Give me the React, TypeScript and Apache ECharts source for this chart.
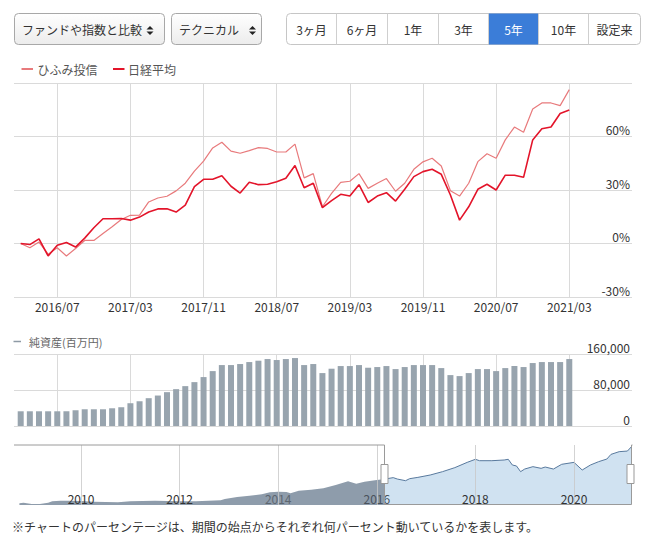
import React, { useEffect, useRef } from 'react';
import * as echarts from 'echarts';

const FONT = "'Noto Sans CJK JP', 'Noto Sans', sans-serif";

// Monthly points 2016/03 .. 2021/03 (index 0..60)
const tickIndex = [4, 12, 20, 28, 36, 44, 52, 60];
const tickLabels = ['2016/07', '2017/03', '2017/11', '2018/07', '2019/03', '2019/11', '2020/07', '2021/03'];

const hifumi = [0, -2.4, 0.8, -6, -2.4, -7, -2.8, 1.7, 1.7, 5.6,
  9.4, 13.5, 15.8, 15.9, 23.3, 25.5, 26.5, 29.5, 33.8, 40.6,
  46.2, 53.6, 56.8, 51.8, 50.6, 52.1, 53.8, 53.3, 51.3, 51.3,
  55.7, 36.8, 39.2, 20.6, 28.1, 34.3, 34.9, 39.2, 30.9, 33.8,
  36.4, 29.3, 33.8, 41.6, 45.8, 47.8, 43.5, 29.6, 26.6, 33.8,
  45.9, 50.3, 47.8, 58.1, 65.3, 62.4, 75.4, 78.8, 78.8, 77.3,
  86.3];

const nikkei = [0, -0.6, 2.6, -7, -1, 0.6, -2, 3, 8.8, 13.9,
  13.9, 14, 13.1, 14.8, 17.7, 19.4, 19.5, 17.6, 21.5, 31.9,
  36, 36, 38, 32.1, 28.3, 34.4, 33, 33.2, 34.6, 36.6,
  43.7, 31.3, 33.8, 20.1, 24, 27.6, 26.6, 33, 23, 26.6,
  28.5, 23.8, 30.4, 37.5, 40.3, 41.6, 38.8, 27.2, 13.1, 20.6,
  30.4, 33.2, 30, 38.3, 38.3, 37.1, 58.1, 64.3, 65.3, 72.9,
  74.8];

// 純資産 (百万円)
const netAssets = [32700, 32700, 32700, 32700, 32700, 32700, 35000, 37200, 37200, 37200,
  39400, 41700, 50600, 55000, 61800, 67700, 75200, 81900, 88600, 97500,
  108700, 122000, 135400, 135400, 137700, 142100, 145100, 148800, 146600, 148800,
  151000, 135400, 137700, 117600, 127300, 133200, 133200, 135400, 129500, 131000,
  133200, 126500, 131000, 135400, 135400, 135400, 128700, 113100, 110900, 117600,
  126500, 126500, 122000, 128700, 133200, 131000, 139900, 142100, 142100, 142100,
  148800];

// Navigator: months since 2008/10, fund price (円)
const navMonth = [0, 1, 3, 5, 7, 8, 10, 12, 15, 18, 21, 24, 27, 30, 33, 36, 39, 43, 46, 49,
  50, 53, 56, 59, 61, 63, 65, 66, 68, 71, 74, 77, 80, 82, 84, 87, 89,
  91, 92, 94, 95, 97, 100, 103, 106, 109, 111, 112, 115, 118, 119, 120, 121, 122,
  123, 125, 127, 128, 130, 132, 135, 137, 139, 141, 143, 144, 146, 148, 149];
const navValue = [10000, 10700, 9100, 9100, 10700, 12200, 12900, 12900, 12600, 11800, 11400, 11000, 12200, 12600, 12900, 12600, 12200, 12200, 12900, 13300,
  14800, 17100, 18600, 20200, 22400, 23200, 22800, 21300, 24300, 25500, 27000, 30800, 35000, 32300, 34600, 36500, 37600,
  39200, 37600, 35700, 38000, 39500, 42200, 46000, 50600, 56600, 60100, 58500, 58500, 59300, 60100, 53600, 52500, 46000,
  49000, 51700, 49800, 51300, 49000, 54400, 56600, 47900, 53600, 57400, 60400, 65700, 68800, 69500, 74500];
const navSplit = 89;
const navTickMonths = [15, 39, 63, 87, 111, 135];
const navTickLabels = ['2010', '2012', '2014', '2016', '2018', '2020'];

const selects = ['ファンドや指数と比較', 'テクニカル'];
const periodButtons = ['3ヶ月', '6ヶ月', '1年', '3年', '5年', '10年', '設定来'];
const activeButton = 4;
const note = '※チャートのパーセンテージは、期間の始点からそれぞれ何パーセント動いているかを表します。';

function buildGraphics() {
  const g: any[] = [];
  const grad = () => new echarts.graphic.LinearGradient(0, 0, 0, 1, [
    { offset: 0, color: '#ffffff' }, { offset: 1, color: '#ececec' }]);
  const selBoxes = [[14.5, 150, 150], [171.5, 90, 252.5]];
  selects.forEach((s, k) => {
    const [x, w, ax] = selBoxes[k];
    g.push({ type: 'rect', shape: { x, y: 13.5, width: w, height: 31, r: 4 }, style: { fill: grad(), stroke: '#a8a8a8', lineWidth: 1 } });
    g.push({ type: 'text', x: x + 7.5, y: 29.5, style: { text: s, font: `12px ${FONT}`, fill: '#333', verticalAlign: 'middle' } });
    g.push({ type: 'polygon', shape: { points: [[ax - 3.5, 29.5], [ax + 3.5, 29.5], [ax, 26]] }, style: { fill: '#222' } });
    g.push({ type: 'polygon', shape: { points: [[ax - 3.5, 31.5], [ax + 3.5, 31.5], [ax, 35]] }, style: { fill: '#222' } });
  });
  const edges = [286.5, 336.5, 387.5, 438.5, 488.5, 538.5, 588.5, 640.5];
  g.push({ type: 'rect', shape: { x: 286.5, y: 13.5, width: 354, height: 31, r: 4 }, style: { fill: '#fff', stroke: '#c6c6c6', lineWidth: 1 } });
  g.push({ type: 'rect', shape: { x: edges[activeButton], y: 13.5, width: edges[activeButton + 1] - edges[activeButton], height: 31 }, style: { fill: '#3b7dd8' } });
  for (let k = 1; k < edges.length - 1; k++) {
    g.push({ type: 'line', shape: { x1: edges[k], y1: 13.5, x2: edges[k], y2: 44.5 }, style: { stroke: '#cfcfcf', lineWidth: 1 } });
  }
  periodButtons.forEach((b, k) => {
    g.push({ type: 'text', x: (edges[k] + edges[k + 1]) / 2, y: 29.5, style: { text: b, font: `12px ${FONT}`, fill: k === activeButton ? '#fff' : '#333', align: 'center', verticalAlign: 'middle' } });
  });
  // legends
  g.push({ type: 'line', shape: { x1: 21.5, y1: 69, x2: 33, y2: 69 }, style: { stroke: '#e87a7c', lineWidth: 2 } });
  g.push({ type: 'text', x: 37.5, y: 69, style: { text: 'ひふみ投信', font: `12px ${FONT}`, fill: '#555', verticalAlign: 'middle' } });
  g.push({ type: 'line', shape: { x1: 113, y1: 69, x2: 124.5, y2: 69 }, style: { stroke: '#e3142a', lineWidth: 2 } });
  g.push({ type: 'text', x: 128, y: 69, style: { text: '日経平均', font: `12px ${FONT}`, fill: '#555', verticalAlign: 'middle' } });
  g.push({ type: 'line', shape: { x1: 13.5, y1: 341.5, x2: 21, y2: 341.5 }, style: { stroke: '#8e9aa5', lineWidth: 1.5 } });
  g.push({ type: 'text', x: 29, y: 341.5, style: { text: '純資産(百万円)', font: `11px ${FONT}`, fill: '#666', verticalAlign: 'middle' } });
  // navigator outline and handles
  g.push({ type: 'polyline', z: 100, shape: { points: [[14, 445], [384.5, 445], [384.5, 504.5], [631.5, 504.5], [631.5, 445], [632.5, 445]] }, style: { stroke: '#9a9a9a', lineWidth: 1, fill: null } });
  [381, 627].forEach(x => {
    g.push({ type: 'rect', z: 101, shape: { x, y: 464.5, width: 7, height: 19 }, style: { fill: '#fff', stroke: '#999', lineWidth: 1 } });
  });
  g.push({ type: 'text', x: 12, y: 526, style: { text: note, font: `12px ${FONT}`, fill: '#333', verticalAlign: 'middle' } });
  return g;
}

function buildOption() {
  const idx = hifumi.map((_, i) => i);
  const gridLine = { show: true, lineStyle: { color: '#dadada', width: 1 } };
  const mainXMin = -0.733, mainXMax = 66.86;
  const navLeft = navMonth.map((m, k) => [m, navValue[k]]).filter(p => p[0] <= navSplit);
  const navRight = navMonth.map((m, k) => [m, navValue[k]]).filter(p => p[0] >= navSplit);
  return {
    animation: false,
    textStyle: { fontFamily: FONT },
    grid: [
      { left: 14, top: 83, width: 618, height: 214 },
      { left: 14, top: 354, width: 618, height: 72 },
      { left: 14.5, top: 445, width: 617, height: 60 },
    ],
    xAxis: [
      {
        type: 'value', gridIndex: 0, min: mainXMin, max: mainXMax,
        axisLine: { show: false }, axisTick: { show: false, customValues: tickIndex },
        axisLabel: { customValues: tickIndex, color: '#333', fontSize: 12, margin: 3, formatter: (v: number) => tickLabels[tickIndex.indexOf(Math.round(v))] || '' },
        splitLine: gridLine,
      },
      {
        type: 'value', gridIndex: 1, min: mainXMin, max: mainXMax,
        axisLine: { show: false }, axisTick: { show: false, customValues: tickIndex },
        axisLabel: { show: false, customValues: tickIndex },
        splitLine: gridLine,
      },
      {
        type: 'value', gridIndex: 2, min: -1.19, max: 149, z: 5,
        axisLine: { show: false }, axisTick: { show: false, customValues: navTickMonths },
        axisLabel: {
          customValues: navTickMonths, inside: true, margin: 1, fontSize: 12,
          color: (v: any) => { const m = Math.round(Number(v)); return m === 63 ? '#5d6670' : m === 87 ? '#4a525c' : '#333'; },
          formatter: (v: number) => navTickLabels[navTickMonths.indexOf(Math.round(v))] || '',
        },
        splitLine: { show: true, lineStyle: { color: 'rgba(200,200,200,0.8)', width: 1 } },
      },
    ],
    yAxis: [
      {
        type: 'value', gridIndex: 0, position: 'right', min: -30, max: 90, interval: 30,
        axisLine: { show: false }, axisTick: { show: false },
        axisLabel: { inside: true, margin: 2, verticalAlign: 'bottom', padding: [0, 0, 1, 0], color: '#333', fontSize: 12, formatter: (v: number) => (v === 90 ? '' : `${v}%`) },
        splitLine: gridLine,
      },
      {
        type: 'value', gridIndex: 1, position: 'right', min: 0, max: 160000, interval: 80000,
        axisLine: { show: false }, axisTick: { show: false },
        axisLabel: { inside: true, margin: 2, verticalAlign: 'bottom', padding: [0, 0, 1, 0], color: '#333', fontSize: 12, formatter: (v: number) => v.toLocaleString('en-US') },
        splitLine: gridLine,
      },
      { type: 'value', gridIndex: 2, min: 8000, max: 76400, show: false },
    ],
    series: [
      {
        type: 'line', name: 'ひふみ投信', xAxisIndex: 0, yAxisIndex: 0, symbol: 'none',
        data: idx.map(i => [i, hifumi[i]]), lineStyle: { color: '#e87a7c', width: 1.2 }, z: 3,
      },
      {
        type: 'line', name: '日経平均', xAxisIndex: 0, yAxisIndex: 0, symbol: 'none',
        data: idx.map(i => [i, nikkei[i]]), lineStyle: { color: '#e3142a', width: 1.6 }, z: 4,
      },
      {
        type: 'bar', name: '純資産(百万円)', xAxisIndex: 1, yAxisIndex: 1, barWidth: 6,
        data: idx.map(i => [i, netAssets[i]]), itemStyle: { color: '#98a4ae' },
      },
      {
        type: 'line', xAxisIndex: 2, yAxisIndex: 2, symbol: 'none', data: navLeft,
        lineStyle: { width: 0 }, areaStyle: { color: '#8e9cab', opacity: 1, origin: 'start' },
      },
      {
        type: 'line', xAxisIndex: 2, yAxisIndex: 2, symbol: 'none', data: navRight,
        lineStyle: { color: '#58799d', width: 1 }, areaStyle: { color: '#d0e2f1', opacity: 1, origin: 'start' },
      },
    ],
    graphic: buildGraphics(),
  };
}

export default function App() {
  const ref = useRef<HTMLDivElement>(null);
  useEffect(() => {
    document.body.style.margin = '0';
    const chart = echarts.init(ref.current!, null, { renderer: 'svg' });
    chart.setOption(buildOption() as any);
    return () => chart.dispose();
  }, []);
  return <div ref={ref} style={{ width: 648, height: 536, background: '#fff' }} />;
}
